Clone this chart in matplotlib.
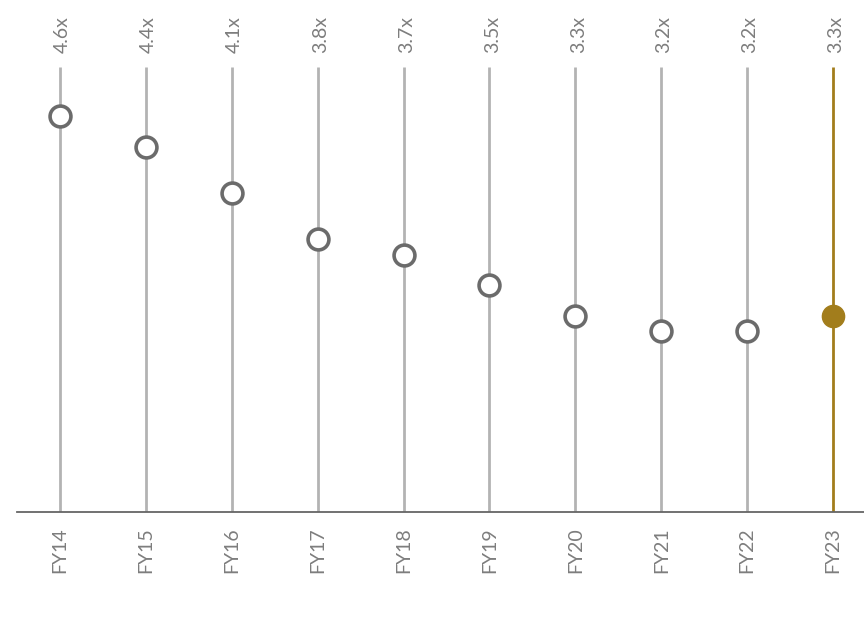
import matplotlib
matplotlib.use("Agg")
import matplotlib.pyplot as plt

# Net debt multiple by fiscal year
years = ["FY14", "FY15", "FY16", "FY17", "FY18", "FY19", "FY20", "FY21", "FY22", "FY23"]
multiples = [4.6, 4.4, 4.1, 3.8, 3.7, 3.5, 3.3, 3.2, 3.2, 3.3]
value_labels = ["4.6x", "4.4x", "4.1x", "3.8x", "3.7x", "3.5x", "3.3x", "3.2x", "3.2x", "3.3x"]
highlight = "FY23"

GREY_LINE = "#b3b3b3"
GREY_MARK = "#6b6b6b"
GOLD = "#a27d1c"
TEXT = "#7d7d7d"

plt.rcParams["font.family"] = ["Lato", "DejaVu Sans"]

fig = plt.figure(figsize=(8.64, 6.20), dpi=100)
ax = fig.add_axes([17 / 864, 108 / 620, 859 / 864, 445 / 620])
ymin, ymax = 2.025, 4.92
ax.set_xlim(-0.5, len(years) - 0.5)
ax.set_ylim(ymin, ymax)

for i, (yr, v, lab) in enumerate(zip(years, multiples, value_labels)):
    is_hl = yr == highlight
    col = GOLD if is_hl else GREY_LINE
    ax.vlines(i, ymin, ymax, color=col, lw=2.0, zorder=1)
    if is_hl:
        ax.plot(i, v, "o", ms=16, color=GOLD, mec=GOLD, zorder=3)
    else:
        ax.plot(i, v, "o", ms=15, mfc="white", mec=GREY_MARK, mew=2.6, zorder=3)
    ax.annotate(lab, xy=(i, ymax), xytext=(2, 10), textcoords="offset points",
                rotation=90, ha="center", va="bottom", fontsize=14, color=TEXT,
                annotation_clip=False)

ax.set_xticks(range(len(years)))
ax.set_xticklabels(years, rotation=90, fontsize=14, color=TEXT)
ax.tick_params(axis="x", length=0, pad=11)
ax.set_yticks([])
for s in ["top", "right", "left"]:
    ax.spines[s].set_visible(False)
ax.spines["bottom"].set_color("#666666")
ax.spines["bottom"].set_linewidth(1.3)

fig.savefig("out.png", dpi=100, facecolor="white")
